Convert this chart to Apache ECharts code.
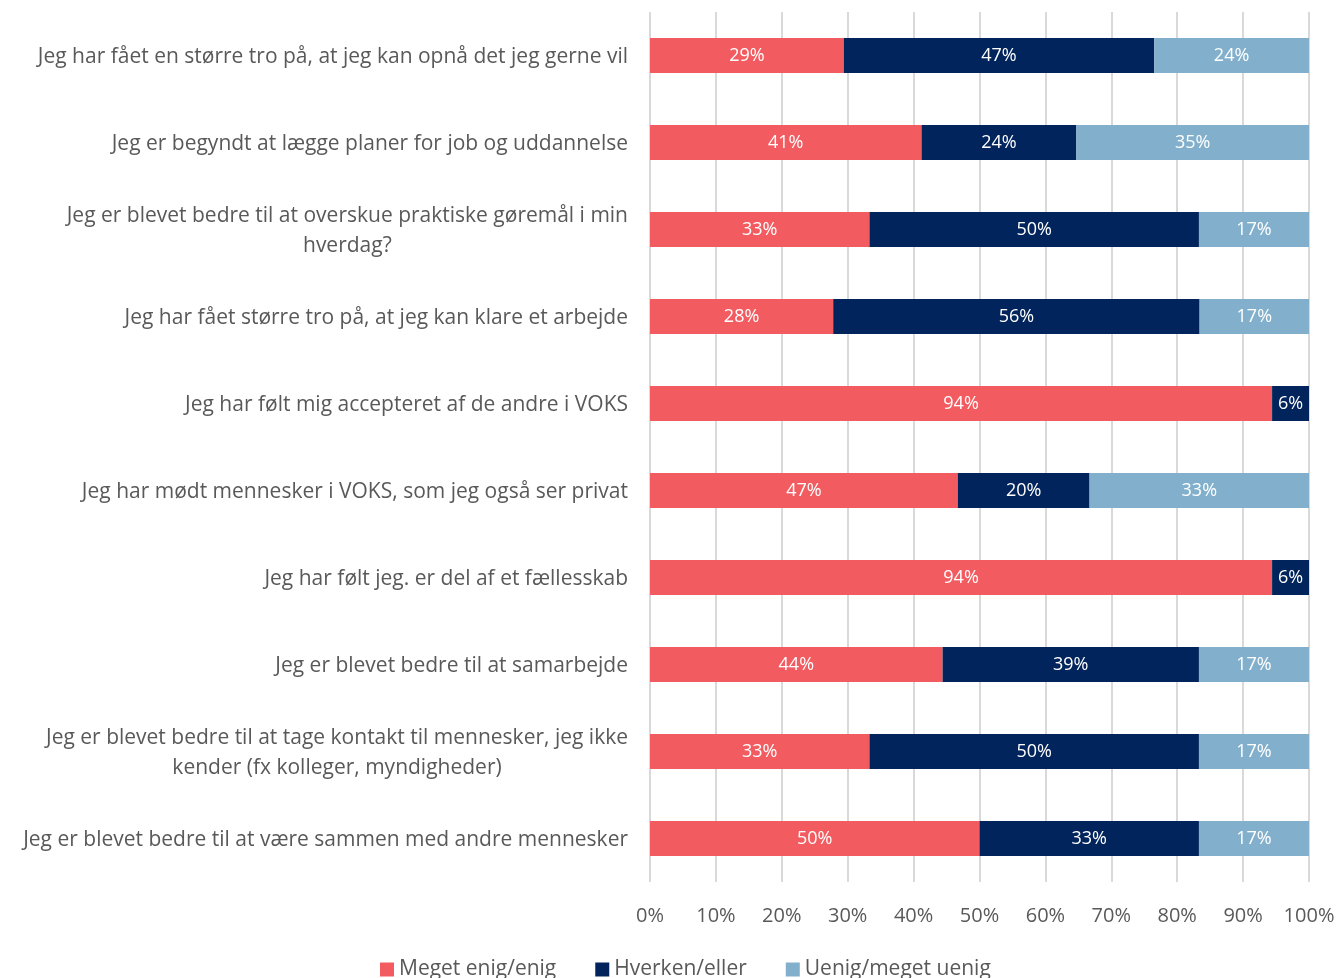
<!DOCTYPE html>
<html><head><meta charset="utf-8">
<script src="https://cdn.jsdelivr.net/npm/echarts@6/dist/echarts.min.js"></script>
<style>html,body{margin:0;padding:0;background:#fff}#c{width:1339px;height:978px}</style>
</head><body><div id="c"></div>
<script>
const categories = [
  "Jeg har fået en større tro på, at jeg kan opnå det jeg gerne vil",
  "Jeg er begyndt at lægge planer for job og uddannelse",
  "Jeg er blevet bedre til at overskue praktiske gøremål i min\nhverdag?",
  "Jeg har fået større tro på, at jeg kan klare et arbejde",
  "Jeg har følt mig accepteret af de andre i VOKS",
  "Jeg har mødt mennesker i VOKS, som jeg også ser privat",
  "Jeg har følt jeg. er del af et fællesskab",
  "Jeg er blevet bedre til at samarbejde",
  "Jeg er blevet bedre til at tage kontakt til mennesker, jeg ikke\nkender (fx kolleger, myndigheder)",
  "Jeg er blevet bedre til at være sammen med andre mennesker"
];
const seriesNames = ["Meget enig/enig", "Hverken/eller", "Uenig/meget uenig"];
const enig =    [29.4, 41.2, 33.3, 27.8, 94.4, 46.7, 94.4, 44.4, 33.3, 50.0];
const hverken = [47.1, 23.5, 50.0, 55.6, 5.6, 20.0, 5.6, 38.9, 50.0, 33.3];
const uenig =   [23.5, 35.3, 16.7, 16.7, 0, 33.3, 0, 16.7, 16.7, 16.7];
const xTicks = [0, 10, 20, 30, 40, 50, 60, 70, 80, 90, 100];
const colors = ["#F25C61", "#00245B", "#82B0CC"];

const chart = echarts.init(document.getElementById('c'));
const font = "'Open Sans', sans-serif";
function mk(name, data, color) {
  return {
    name, type: 'bar', stack: 'all', data, barCategoryGap: '60%',
    itemStyle: { color },
    label: {
      show: true, position: 'inside', color: '#fff', fontFamily: font, fontSize: 18,
      formatter: p => p.value > 0 ? Math.round(p.value) + '%' : ''
    }
  };
}
chart.setOption({
  animation: false,
  textStyle: { fontFamily: font },
  grid: { left: 650, right: 30, top: 12, bottom: 96, containLabel: false },
  legend: {
    top: 954, left: 375, itemWidth: 14, itemHeight: 14, itemGap: 39, icon: 'rect',
    textStyle: { color: '#595959', fontSize: 21, fontFamily: font },
    data: seriesNames
  },
  xAxis: {
    type: 'value', min: 0, max: 100, interval: 10,
    axisLine: { show: false }, axisTick: { show: false },
    splitLine: { lineStyle: { color: '#D9D9D9', width: 2 } },
    axisLabel: { color: '#595959', fontSize: 20, fontFamily: font, margin: 24,
      formatter: v => xTicks.includes(v) ? v + '%' : '' }
  },
  yAxis: {
    type: 'category', inverse: true, data: categories,
    axisLine: { show: false }, axisTick: { show: false },
    axisLabel: {
      margin: 22, color: '#595959', fontSize: 21, fontFamily: font, lineHeight: 30,
      padding: [4, 0, 0, 0],
      formatter: v => v.split('\n').map(s => '{c|' + s + '}').join('\n'),
      rich: { c: { align: 'center', color: '#595959', fontSize: 21, fontFamily: font, lineHeight: 30 } }
    }
  },
  series: [mk(seriesNames[0], enig, colors[0]), mk(seriesNames[1], hverken, colors[1]), mk(seriesNames[2], uenig, colors[2])]
});
</script></body></html>
